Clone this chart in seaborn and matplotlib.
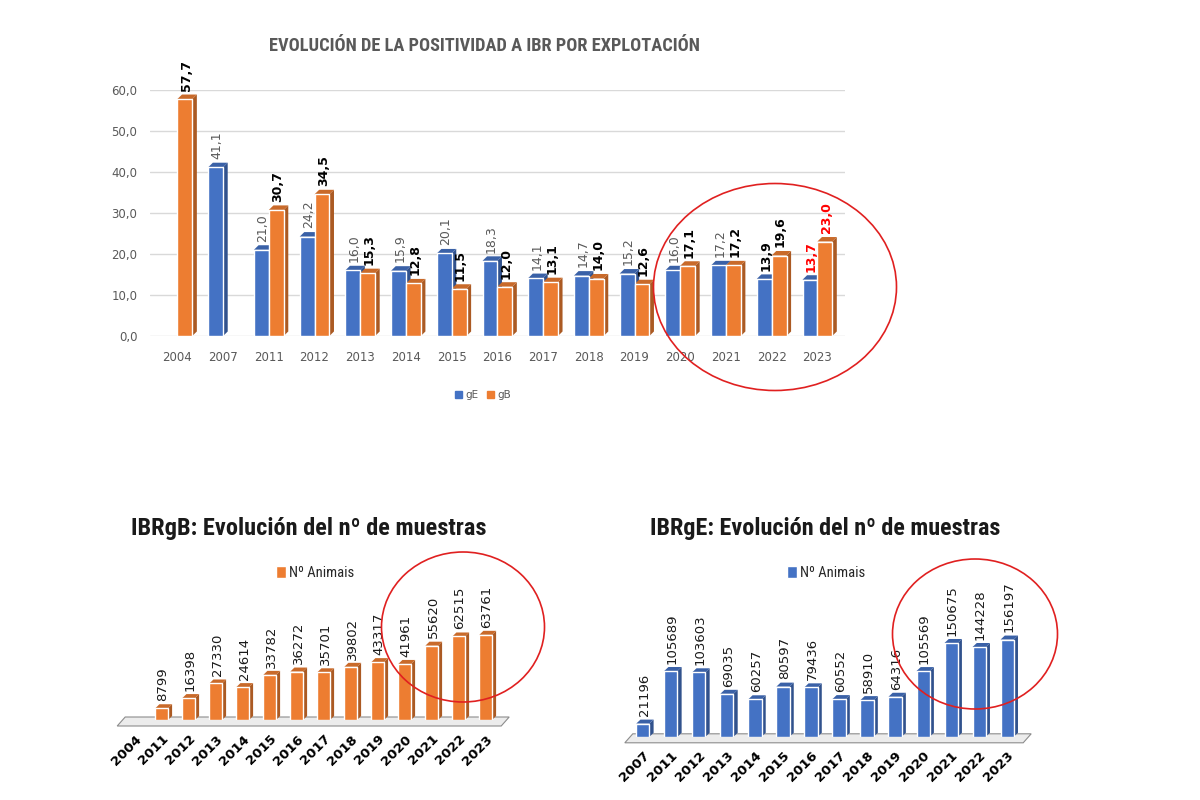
import numpy as np
import pandas as pd
import matplotlib.pyplot as plt
import seaborn as sns
import matplotlib.colors as mcolors
from matplotlib.patches import Polygon, Ellipse, Patch

# --- data -------------------------------------------------------------
years_top = ["2004", "2007", "2011", "2012", "2013", "2014", "2015", "2016",
             "2017", "2018", "2019", "2020", "2021", "2022", "2023"]
ge_pct = [np.nan, 41.1, 21.0, 24.2, 16.0, 15.9, 20.1, 18.3, 14.1, 14.7, 15.2,
          16.0, 17.2, 13.9, 13.7]
gb_pct = [57.7, np.nan, 30.7, 34.5, 15.3, 12.8, 11.5, 12.0, 13.1, 14.0, 12.6,
          17.1, 17.2, 19.6, 23.0]

years_gb = ["2004", "2011", "2012", "2013", "2014", "2015", "2016", "2017",
            "2018", "2019", "2020", "2021", "2022", "2023"]
gb_samples = [np.nan, 8799, 16398, 27330, 24614, 33782, 36272, 35701, 39802,
              43317, 41961, 55620, 62515, 63761]

years_ge = ["2007", "2011", "2012", "2013", "2014", "2015", "2016", "2017",
            "2018", "2019", "2020", "2021", "2022", "2023"]
ge_samples = [21196, 105689, 103603, 69035, 60257, 80597, 79436, 60552, 58910,
              64316, 105569, 150675, 144228, 156197]

# labels that are highlighted in the top chart
highlight = {("gE", "2022"): "#000000", ("gE", "2023"): "#ff0000",
             ("gB", "2023"): "#ff0000"}

BLUE = "#4472C4"
ORANGE = "#ED7D31"
GREY = "#595959"
NARROW = ["Roboto Condensed", "Liberation Sans", "DejaVu Sans"]

sns.set_style("white")
plt.rcParams["font.family"] = ["DejaVu Sans"]


def darker(c, f=0.7):
    r, g, b = mcolors.to_rgb(c)
    return (r * f, g * f, b * f)


def add_3d(ax, patches, dx, dy, color):
    side = darker(color, 0.72)
    top = darker(color, 0.85)
    for p in patches:
        h = p.get_height()
        if not np.isfinite(h) or h <= 0:
            continue
        x, w = p.get_x(), p.get_width()
        ax.add_patch(Polygon([(x + w, 0), (x + w + dx, dy), (x + w + dx, h + dy), (x + w, h)],
                             closed=True, facecolor=side, edgecolor="none", zorder=2.5))
        ax.add_patch(Polygon([(x, h), (x + dx, h + dy), (x + w + dx, h + dy), (x + w, h)],
                             closed=True, facecolor=top, edgecolor="none", zorder=2.5))


def add_floor(ax):
    bb = ax.get_window_extent()
    px = 1.0 / bb.width
    py = 1.0 / bb.height
    pts = [(-4 * px, -6 * py), (4 * px, 3 * py), (1 + 10 * px, 3 * py), (1 + 2 * px, -6 * py)]
    ax.add_patch(Polygon(pts, closed=True, transform=ax.transAxes, facecolor="#ececec",
                         edgecolor="#8c8c8c", lw=0.8, zorder=1, clip_on=False))


def fit_title(x, y, text, target_px, color):
    # size the title so that it spans the same width as in the reference
    t = fig.text(x, y, text, ha="center", va="center", fontsize=12,
                 fontweight="bold", color=color, family=NARROW)
    fig.canvas.draw()
    w = t.get_window_extent().width
    t.set_fontsize(12 * target_px / w)
    return t


fig = plt.figure(figsize=(12, 8), dpi=100)

# --- top chart --------------------------------------------------------
ax = fig.add_axes([0.125, 0.58, 0.579, 0.308])
df_top = pd.DataFrame({"year": years_top * 2,
                       "serie": ["gE"] * len(years_top) + ["gB"] * len(years_top),
                       "pct": ge_pct + gb_pct}).dropna()
sns.barplot(data=df_top, x="year", y="pct", hue="serie", order=years_top,
            hue_order=["gE", "gB"], palette={"gE": BLUE, "gB": ORANGE},
            width=0.65, errorbar=None, saturation=1, ax=ax, zorder=3)
ax.set_ylim(0, 60)
ax.set_xlim(-0.6, len(years_top) - 0.4)
ax.set_yticks(np.arange(0, 61, 10))
ax.set_yticklabels([f"{v:.1f}".replace(".", ",") for v in np.arange(0, 61, 10)])
ax.yaxis.grid(True, color="#d9d9d9", lw=1)
ax.set_axisbelow(True)
sns.despine(ax=ax, left=True, bottom=True)
ax.tick_params(axis="both", length=0, labelsize=8.5, labelcolor=GREY)
ax.tick_params(axis="x", pad=11)
ax.tick_params(axis="y", pad=9)
ax.set_xlabel("")
ax.set_ylabel("")

dx_top, dy_top = 0.1, 1.1
for serie, cont, col in zip(["gE", "gB"], ax.containers, [BLUE, ORANGE]):
    add_3d(ax, cont.patches, dx_top, dy_top, col)
    for p in cont.patches:
        h = p.get_height()
        if not np.isfinite(h) or h <= 0:
            continue
        year = years_top[int(round(p.get_x() + p.get_width() / 2))]
        color = highlight.get((serie, year), "#000000" if serie == "gB" else GREY)
        bold = serie == "gB" or (serie, year) in highlight
        ax.text(p.get_x() + p.get_width() / 2 + 0.03, h + dy_top + 0.9,
                f"{h:.1f}".replace(".", ","), rotation=90, ha="center", va="bottom",
                fontsize=9, color=color, fontweight="bold" if bold else "normal",
                zorder=5, clip_on=False)

ax.legend(handles=[Patch(color=BLUE, label="gE"), Patch(color=ORANGE, label="gB")],
          loc="center", bbox_to_anchor=(483 / 1200, 1 - 395 / 800), bbox_transform=fig.transFigure,
          ncol=2, frameon=False, fontsize=7.5, labelcolor=GREY, handlelength=0.7,
          handleheight=0.7, handletextpad=0.3, columnspacing=0.8)

fit_title(484 / 1200, 1 - 46 / 800, "EVOLUCIÓN DE LA POSITIVIDAD A IBR POR EXPLOTACIÓN", 432, GREY)


# --- bottom charts ----------------------------------------------------
def bottom_chart(rect, years, values, color, ymax, title, title_x, title_w, legend_x):
    a = fig.add_axes(rect)
    df = pd.DataFrame({"year": years, "n": values}).dropna()
    sns.barplot(data=df, x="year", y="n", order=years, color=color, saturation=1,
                width=0.47, errorbar=None, ax=a, zorder=3, label="Nº Animais")
    a.set_ylim(0, ymax)
    a.set_xlim(-0.5, len(years) - 0.5)
    sns.despine(ax=a, left=True, bottom=True)
    a.set_yticks([])
    a.set_xlabel("")
    a.set_ylabel("")
    a.tick_params(axis="x", length=0, pad=9)
    for lab in a.get_xticklabels():
        lab.set_rotation(45)
        lab.set_ha("right")
        lab.set_va("top")
        lab.set_rotation_mode("anchor")
        lab.set_fontweight("bold")
        lab.set_fontsize(9.5)
        lab.set_color("#000000")
    bb = a.get_window_extent()
    dy = 4 * ymax / bb.height
    add_3d(a, a.containers[0].patches, 0.15, dy, color)
    for p in a.containers[0].patches:
        h = p.get_height()
        if not np.isfinite(h) or h <= 0:
            continue
        a.text(p.get_x() + p.get_width() / 2 + 0.05, h + dy * 1.8, f"{int(h)}",
               rotation=90, ha="center", va="bottom", fontsize=9.5, color="#1a1a1a",
               zorder=5, clip_on=False)
    add_floor(a)
    a.legend(loc="center", bbox_to_anchor=(legend_x, 1 - 573 / 800), bbox_transform=fig.transFigure,
             frameon=False, handlelength=0.7, handleheight=0.9, handletextpad=0.2,
             prop={"family": NARROW, "size": 10.5})
    fit_title(title_x, 1 - 528 / 800, title, title_w, "#1a1a1a")
    return a


fig.canvas.draw()
bottom_chart([0.101, 0.1, 0.315, 0.167], years_gb, gb_samples, ORANGE, 100000,
             "IBRgB: Evolución del nº de muestras", 309 / 1200, 357, 315 / 1200)
bottom_chart([0.524, 0.079, 0.327, 0.179], years_ge, ge_samples, BLUE, 230000,
             "IBRgE: Evolución del nº de muestras", 825 / 1200, 350, 826 / 1200)

# --- red highlight ellipses -------------------------------------------
for cx, cy, w, h in [(775, 287, 243, 207), (463, 627, 163, 150), (975, 634, 165, 150)]:
    fig.add_artist(Ellipse((cx / 1200, 1 - cy / 800), w / 1200, h / 800,
                           transform=fig.transFigure, fill=False, edgecolor="#e02020", lw=1.2))

fig.savefig("out.png", dpi=100)
